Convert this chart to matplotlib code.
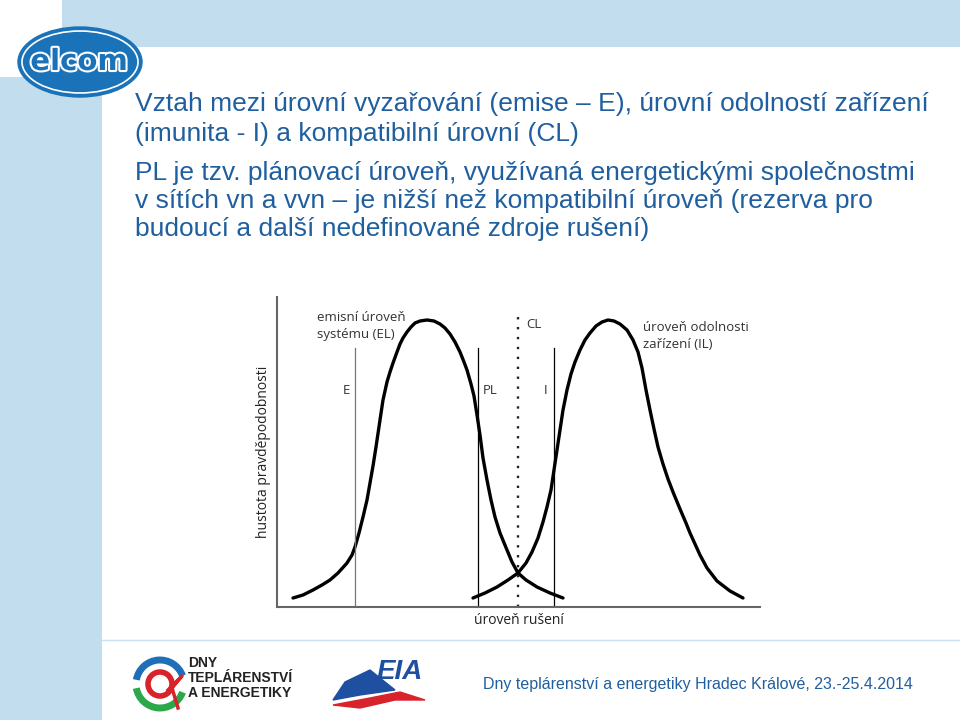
import matplotlib.pyplot as plt
import matplotlib.patches as mpatches
import matplotlib.patheffects as pe

plt.rcParams['font.family'] = ['Liberation Sans', 'DejaVu Sans']

# hodnoty (x = uroven ruseni, y = hustota pravdepodobnosti)
el_x = [16, 26, 36, 45, 53, 61, 70, 75, 78, 82, 86, 90, 93, 96, 99, 103, 106, 110, 113, 116,
        120, 123, 126, 130, 134, 138, 143, 150, 157, 163, 168, 173, 178, 183, 187, 190, 194,
        197, 200, 203, 206, 210, 214, 218, 223, 230, 235, 241, 249, 260, 273, 286]
el_y = [9, 12, 17, 22, 27, 34, 44, 52, 60, 74, 90, 107, 124, 141, 160, 187, 207, 225, 235, 244,
        255, 263, 269, 275, 280, 284, 286, 287, 286, 283, 279, 273, 265, 255, 245, 237, 223,
        211, 192, 172, 149, 127, 107, 90, 74, 57, 45, 34, 27, 20, 14, 9]
il_x = [196, 208, 220, 231, 241, 249, 255, 261, 266, 270, 274, 277, 280, 283, 286, 290, 294,
        298, 303, 308, 313, 319, 325, 331, 337, 343, 350, 356, 361, 365, 369, 373, 377, 381,
        386, 391, 396, 403, 409, 413, 418, 423, 430, 440, 453, 466]
il_y = [9, 14, 20, 27, 34, 44, 55, 69, 85, 100, 117, 137, 157, 177, 197, 217, 233, 245, 257,
        267, 274, 281, 285, 287, 286, 283, 277, 267, 255, 239, 217, 197, 178, 160, 143, 128,
        115, 98, 84, 74, 63, 52, 39, 26, 16, 9]

# svisle urovne
levels = ['E', 'PL', 'I']
level_x = [78, 201, 277]
level_top = 259
cl_x = 241
cl_top = 290

title = ["Vztah mezi úrovní vyzařování (emise – E), úrovní odolností zařízení",
         "(imunita - I) a kompatibilní úrovní (CL)"]
body = ["PL je tzv. plánovací úroveň, využívaná energetickými společnostmi",
        "v sítích vn a vvn – je nižší než kompatibilní úroveň (rezerva pro",
        "budoucí a další nedefinované zdroje rušení)"]
footer = "Dny teplárenství a energetiky Hradec Králové, 23.-25.4.2014"

blue_txt = '#1f5f9f'
light = '#c1ddee'

fig = plt.figure(figsize=(9.6, 7.2), dpi=100)

# pozadi slajdu v pixelech
bg = fig.add_axes([0, 0, 1, 1])
bg.set_xlim(0, 960)
bg.set_ylim(720, 0)
bg.axis('off')
bg.add_patch(mpatches.Rectangle((62, 0), 898, 47, color=light, lw=0))
bg.add_patch(mpatches.Rectangle((0, 77), 102, 643, color=light, lw=0))
bg.plot([102, 960], [640, 640], color='#c8e0f0', lw=1)

# logo elcom
bg.add_patch(mpatches.Ellipse((80, 62), 124, 70, facecolor='#1a72b8', edgecolor='#1a72b8', lw=1))
bg.add_patch(mpatches.Ellipse((80, 62), 116, 62, facecolor='none', edgecolor='white', lw=1.2))
bg.text(79, 62, 'elcom', color='#1a72b8', fontsize=21, fontweight='bold', ha='center', va='center',
        family='DejaVu Sans', path_effects=[pe.withStroke(linewidth=3, foreground='white')])

for i, line in enumerate(title):
    bg.text(135, 104 + 30 * i, line, color=blue_txt, fontsize=19, va='center')
for i, line in enumerate(body):
    bg.text(135, 173 + 28 * i, line, color=blue_txt, fontsize=19, va='center')

# paticka
bg.text(483, 684, footer, color=blue_txt, fontsize=11.5, va='center',
        family=['Liberation Sans Narrow', 'Liberation Sans'])
bg.add_patch(mpatches.Arc((160, 684), 48, 48, theta1=20, theta2=170, color='#2aa84a', lw=5))
bg.add_patch(mpatches.Arc((160, 684), 48, 48, theta1=190, theta2=340, color='#1f6fb8', lw=5))
bg.add_patch(mpatches.Circle((160, 684), 12, facecolor='none', edgecolor='#d8232a', lw=4))
bg.plot([168, 182, 172, 178], [690, 676, 688, 708], color='#d8232a', lw=2.5)
for i, line in enumerate(['DNY', 'TEPLÁRENSTVÍ', 'A ENERGETIKY']):
    bg.text(188, 663 + 15 * i, line, color='#222222', fontsize=10, fontweight='bold', va='center',
            family=['Liberation Sans Narrow', 'Liberation Sans'])
bg.add_patch(mpatches.Polygon([[333, 700], [345, 682], [370, 670], [395, 690], [360, 695]], color='#1f4fa0'))
bg.add_patch(mpatches.Polygon([[333, 705], [370, 698], [400, 692], [425, 700], [395, 700], [360, 708]], color='#d8232a'))
bg.text(400, 672, 'EIA', color='#1f4fa0', fontsize=20, fontweight='bold', style='italic', ha='center', va='center')

# graf
ax = fig.add_axes([277 / 960, 113 / 720, 483 / 960, 310 / 720])
ax.patch.set_alpha(0)
ax.set_xlim(0, 483)
ax.set_ylim(0, 310)
ax.plot(el_x, el_y, color='black', lw=2.4, solid_capstyle='round', solid_joinstyle='round')
ax.plot(il_x, il_y, color='black', lw=2.4, solid_capstyle='round', solid_joinstyle='round')
for name, xv in zip(levels, level_x):
    ax.plot([xv, xv], [2, level_top], color='#777777' if name == 'E' else 'black', lw=0.9)
ax.plot([cl_x, cl_x], [0, cl_top], color='#222222', lw=1.7, linestyle=(0, (1, 3.2)))

lab = dict(color='#333333', fontsize=9.5, family=['Open Sans', 'DejaVu Sans'])
ax.text(level_x[0] - 9, 216, 'E', ha='center', va='center', **lab)
ax.text(level_x[1] + 5, 216, 'PL', ha='left', va='center', **lab)
ax.text(level_x[2] - 8, 216, 'I', ha='center', va='center', **lab)
ax.text(cl_x + 8, 283, 'CL', ha='left', va='center', **lab)
ax.text(40, 281, 'emisní úroveň\nsystému (EL)', ha='left', va='center', linespacing=1.35, **lab)
ax.text(366, 271, 'úroveň odolnosti\nzařízení (IL)', ha='left', va='center', linespacing=1.35, **lab)

ax.set_xticks([])
ax.set_yticks([])
for s in ['top', 'right']:
    ax.spines[s].set_visible(False)
for s in ['left', 'bottom']:
    ax.spines[s].set_color('#666666')
    ax.spines[s].set_linewidth(1.5)
ax.set_xlabel('úroveň rušení', fontsize=10, family=['Open Sans', 'DejaVu Sans'], color='#222222', labelpad=4)
ax.set_ylabel('hustota pravděpodobnosti', fontsize=10, family=['Open Sans', 'DejaVu Sans'], color='#222222', labelpad=4)

fig.savefig('out.png', dpi=100)
